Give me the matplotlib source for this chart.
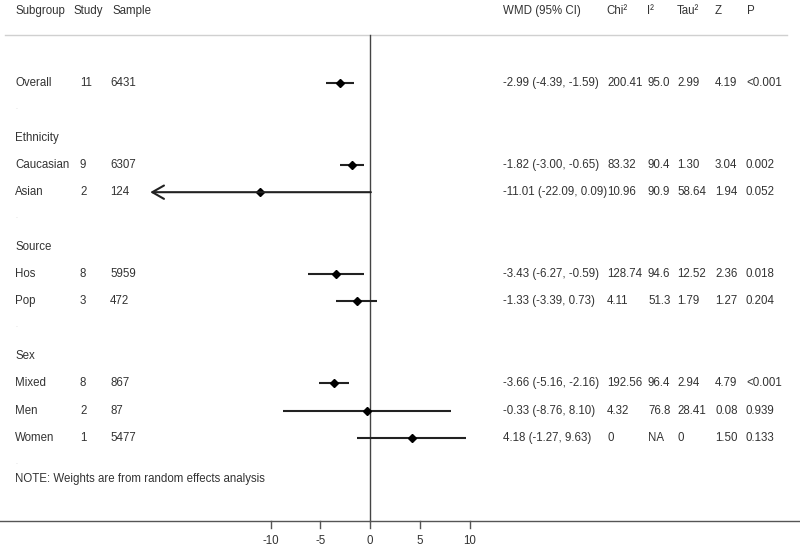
import matplotlib.pyplot as plt
import matplotlib.transforms as mtransforms

plt.rcParams['font.family'] = ['Liberation Sans', 'DejaVu Sans']

# forest plot data (WMD, random effects)
subgroups = ["Overall", "Caucasian", "Asian", "Hos", "Pop", "Mixed", "Men", "Women"]
group_of = ["", "Ethnicity", "Ethnicity", "Source", "Source", "Sex", "Sex", "Sex"]
studies = [11, 9, 2, 8, 3, 8, 2, 1]
samples = [6431, 6307, 124, 5959, 472, 867, 87, 5477]
wmd = [-2.99, -1.82, -11.01, -3.43, -1.33, -3.66, -0.33, 4.18]
ci_lo = [-4.39, -3.00, -22.09, -6.27, -3.39, -5.16, -8.76, -1.27]
ci_hi = [-1.59, -0.65, 0.09, -0.59, 0.73, -2.16, 8.10, 9.63]
chi2 = ["200.41", "83.32", "10.96", "128.74", "4.11", "192.56", "4.32", "0"]
i2 = ["95.0", "90.4", "90.9", "94.6", "51.3", "96.4", "76.8", "NA"]
tau2 = ["2.99", "1.30", "58.64", "12.52", "1.79", "2.94", "28.41", "0"]
zval = ["4.19", "3.04", "1.94", "2.36", "1.27", "4.79", "0.08", "1.50"]
pval = ["<0.001", "0.002", "0.052", "0.018", "0.204", "<0.001", "0.939", "0.133"]
xticks = [-10, -5, 0, 5, 10]
note = "NOTE: Weights are from random effects analysis"

headers = ["Subgroup", "Study", "Sample", "WMD (95% CI)", "Chi\u00b2", "I\u00b2", "Tau\u00b2", "Z", "P"]
# column left edges in pixels
head_x = [15, 74, 113, 503, 606, 647, 677, 715, 747]
col_x = [15, 80, 110, 503, 607, 648, 677, 715, 746]

# ---- row layout
rows = []        # (pos, index)
heads = []       # (pos, name)
blanks = []
pos = 0
prev = None
for i, g in enumerate(group_of):
    if prev is not None and g != prev:
        blanks.append(pos)
        pos += 1
        heads.append((pos, g))
        pos += 1
    rows.append((pos, i))
    pos += 1
    prev = g
blanks.append(pos)

W, H = 800, 549
px_unit = 9.95       # pixels per WMD unit
zero_px = 370
fig = plt.figure(figsize=(W / 100, H / 100), dpi=100)
ax = fig.add_axes([0, 0, 1, 1])
ax.axis('off')
ax.set_xlim(-zero_px / px_unit, (W - zero_px) / px_unit)
ax.set_ylim(17.07, -3.04)
bt = mtransforms.blended_transform_factory(ax.transAxes, ax.transData)

tc = '#333333'
fs = 8.3
axis_y = 16.04
head_line_y = -1.76

# header
for h, x in zip(headers, head_x):
    ax.text(x / W, -2.62, h, transform=bt, fontsize=fs, color=tc, va='center', ha='left')
ax.plot([5 / W, 787 / W], [head_line_y, head_line_y], transform=bt, color='#d0d0d0', lw=1)

# zero line
ax.plot([0, 0], [head_line_y, axis_y], color='#444444', lw=1)

# rows
for p, i in rows:
    vals = [subgroups[i], str(studies[i]), str(samples[i]),
            f"{wmd[i]:.2f} ({ci_lo[i]:.2f}, {ci_hi[i]:.2f})",
            chi2[i], i2[i], tau2[i], zval[i], pval[i]]
    for v, x in zip(vals, col_x):
        ax.text(x / W, p, v, transform=bt, fontsize=fs, color=tc, va='center', ha='left')
    if subgroups[i] == "Asian":
        ax.annotate('', xy=(ci_lo[i], p), xytext=(ci_hi[i], p),
                    arrowprops=dict(arrowstyle='->,head_length=0.7,head_width=0.4',
                                    color='#222222', lw=1.5, mutation_scale=12,
                                    shrinkA=0, shrinkB=0))
    else:
        ax.plot([ci_lo[i], ci_hi[i]], [p, p], color='#222222', lw=1.5, solid_capstyle='butt')
    ax.plot(wmd[i], p, marker='D', color='black', markersize=4)

for p, g in heads:
    ax.text(15 / W, p, g, transform=bt, fontsize=fs, color=tc, va='center', ha='left')
for p in blanks:
    ax.text(15 / W, p - 0.1, '.', transform=bt, fontsize=5, color='#d0d0d0', va='center', ha='left')

ax.text(15 / W, blanks[-1] + 0.52, note, transform=bt, fontsize=fs, color=tc, va='center', ha='left')

# bottom axis
ax.plot([0, 1], [axis_y, axis_y], transform=bt, color='#555555', lw=1)
for t in xticks:
    ax.plot([t, t], [axis_y, axis_y + 0.26], color='#555555', lw=1)
    ax.text(t, axis_y + 0.72, str(t), fontsize=fs, color=tc, ha='center', va='center')

fig.savefig('out.png', dpi=100)
